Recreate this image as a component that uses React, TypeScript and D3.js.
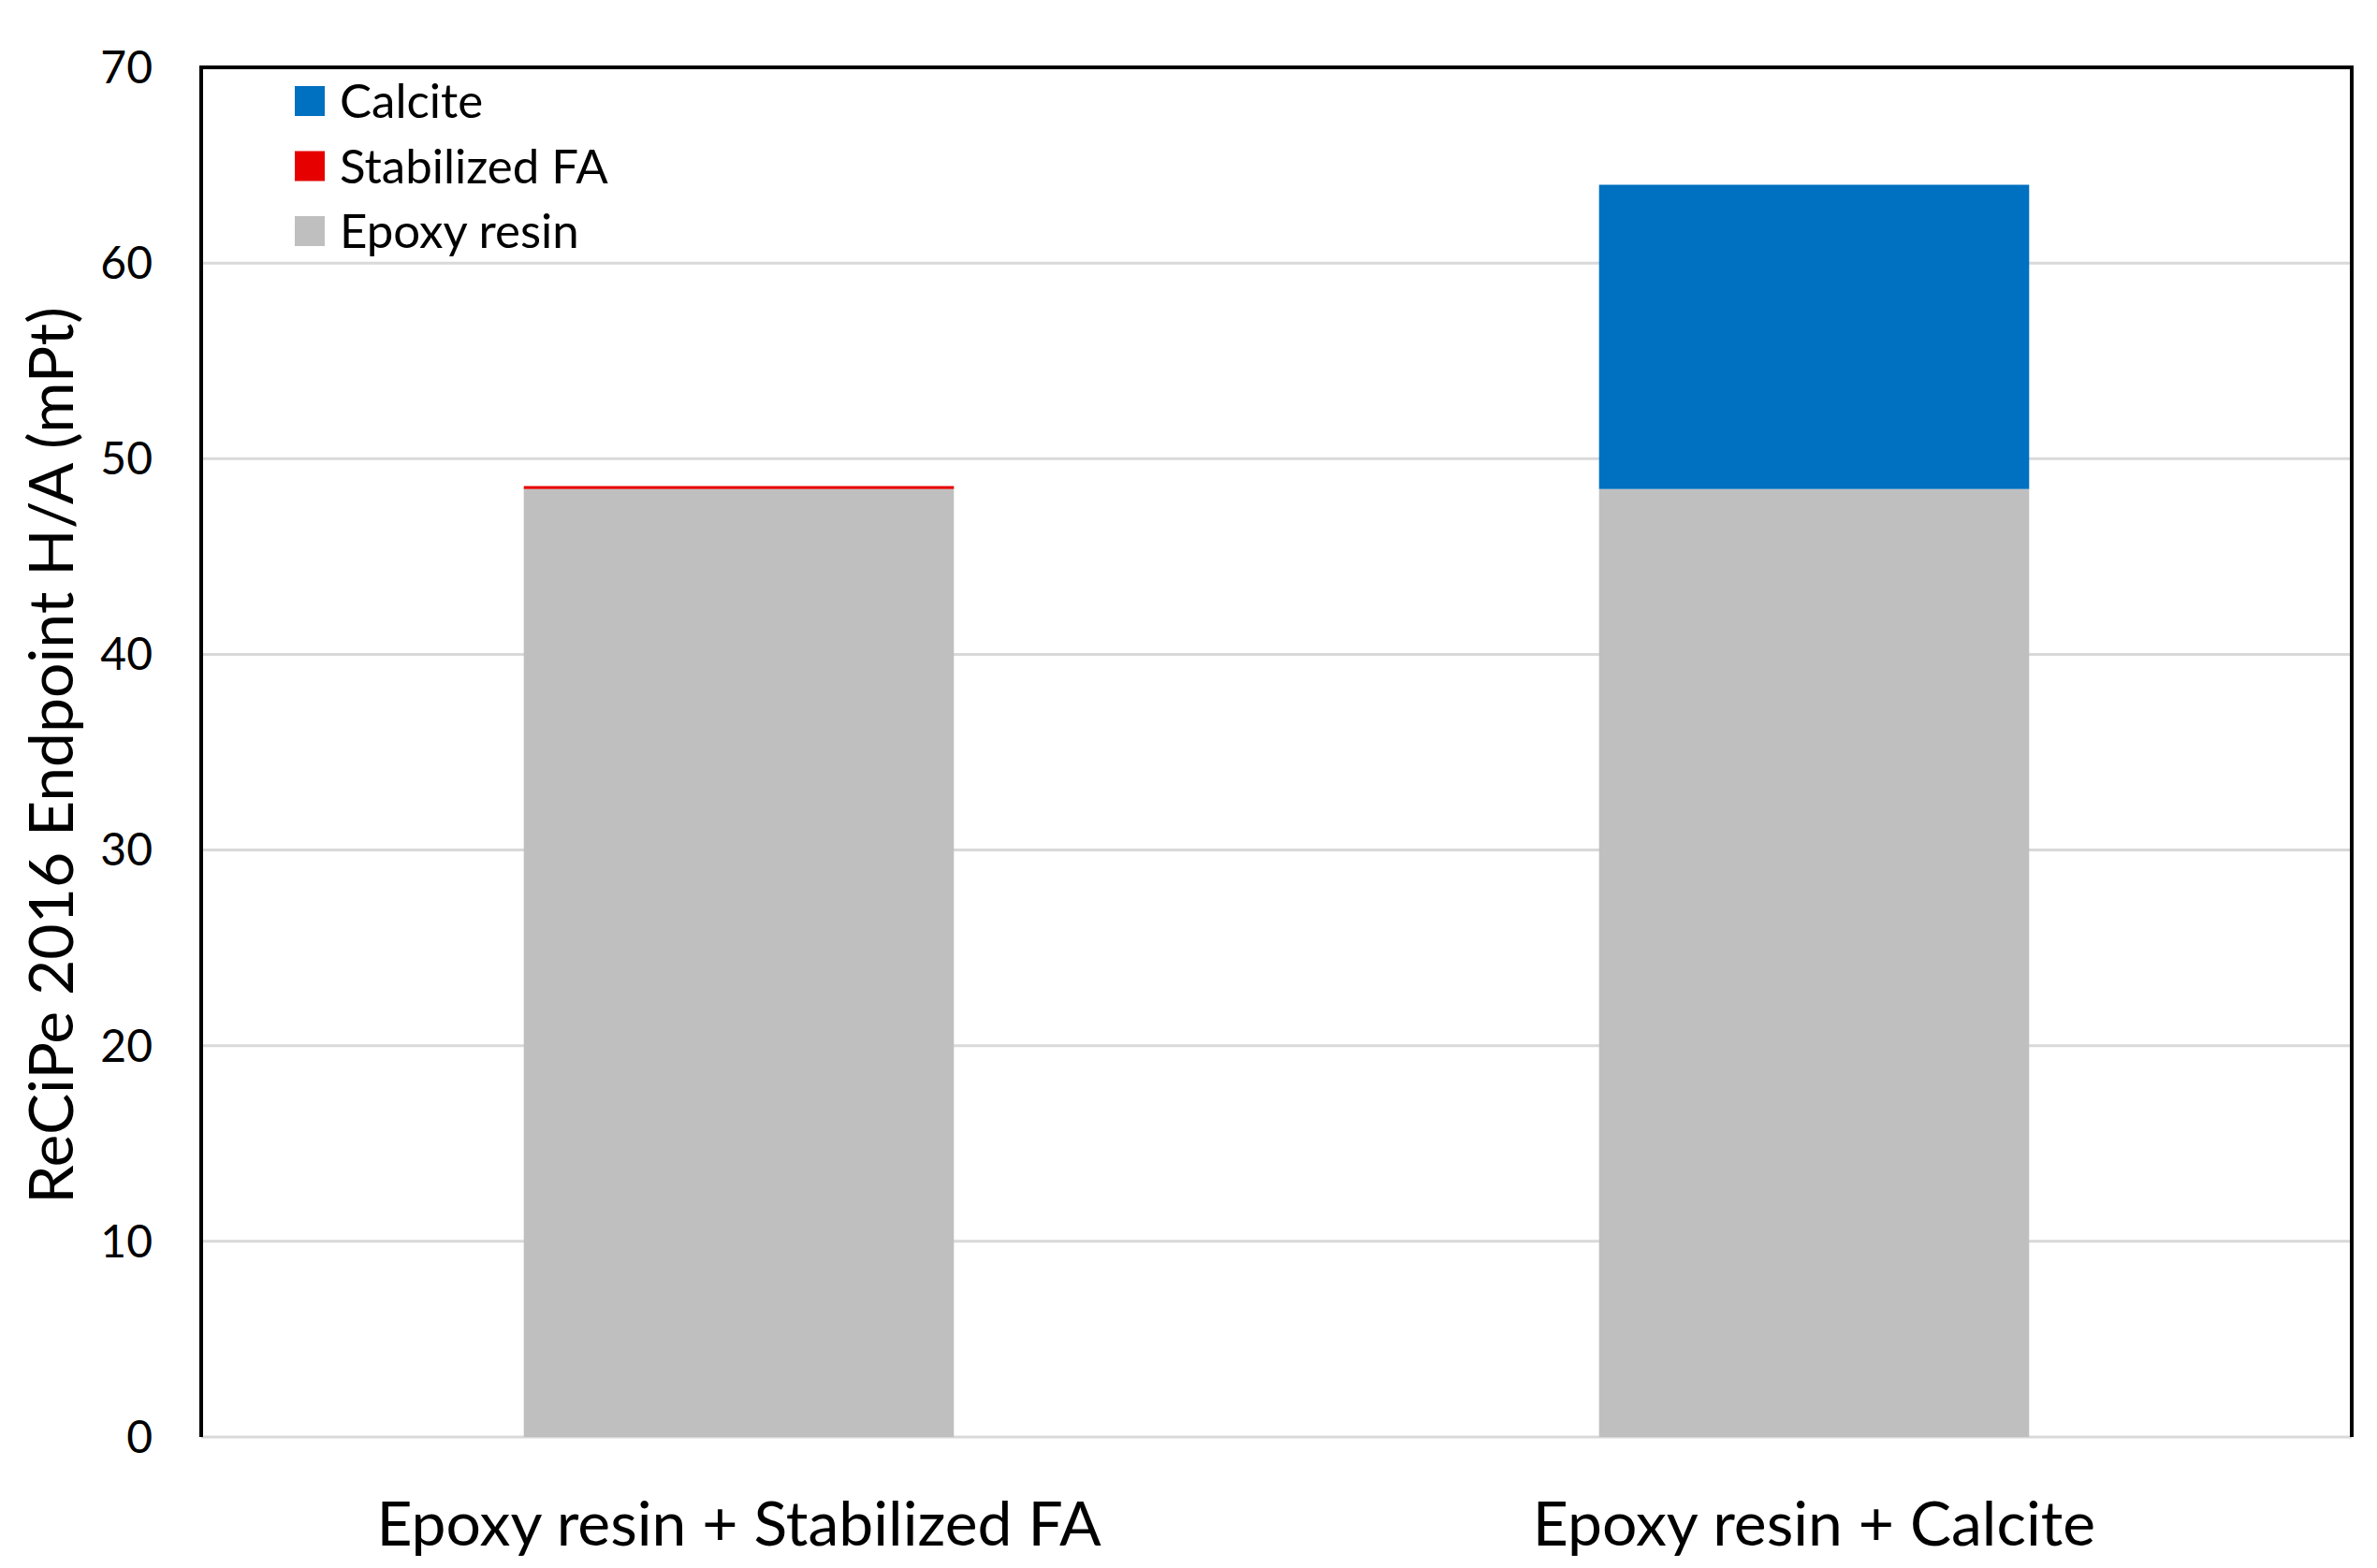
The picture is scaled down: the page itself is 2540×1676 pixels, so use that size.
import React from "react";
import * as d3 from "d3";

const categories = ["Epoxy resin + Stabilized FA", "Epoxy resin + Calcite"];
const seriesNames = ["Epoxy resin", "Stabilized FA", "Calcite"];
const epoxyResin = [48.45, 48.45];
const stabilizedFA = [0.15, 0];
const calcite = [0, 15.55];
const yTicks = [0, 10, 20, 30, 40, 50, 60, 70];
const legendOrder = ["Calcite", "Stabilized FA", "Epoxy resin"];
const yTitle = "ReCiPe 2016 Endpoint H/A (mPt)";

const colors: Record<string, string> = {
  "Epoxy resin": "#bfbfbf",
  "Stabilized FA": "#e60000",
  Calcite: "#0070c0",
};

const W = 2540;
const H = 1676;
const left = 215;
const right = 2513;
const top = 72;
const bottom = 1536;
const FONT = "Lato, 'Open Sans', sans-serif";

export default function App() {
  const x = d3.scaleBand<string>().domain(categories).range([left, right]).padding(0);
  const y = d3.scaleLinear().domain([0, 70]).range([bottom, top]);
  const barW = x.bandwidth() * 0.4;

  const rows = categories.map((c, i) => ({
    cat: c,
    "Epoxy resin": epoxyResin[i],
    "Stabilized FA": stabilizedFA[i],
    Calcite: calcite[i],
  }));
  const stack = d3.stack<any>().keys(seriesNames)(rows);

  return (
    <svg
      width={W}
      height={H}
      style={{ position: "absolute", left: 0, top: 0, background: "#fff" }}
    >
      <rect x={0} y={0} width={W} height={H} fill="#fff" />
      {yTicks.map((t) => (
        <line
          key={"g" + t}
          x1={left}
          x2={right}
          y1={y(t)}
          y2={y(t)}
          stroke="#d9d9d9"
          strokeWidth={3}
        />
      ))}
      {stack.map((s) =>
        s.map((d, i) =>
          d[1] - d[0] > 0 ? (
            <rect
              key={s.key + i}
              x={(x(categories[i]) as number) + x.bandwidth() / 2 - barW / 2}
              width={barW}
              y={y(d[1])}
              height={y(d[0]) - y(d[1])}
              fill={colors[s.key]}
            />
          ) : null
        )
      )}
      <path
        d={`M${left},${bottom} L${left},${top} L${right},${top} L${right},${bottom}`}
        fill="none"
        stroke="#000"
        strokeWidth={4}
      />
      {yTicks.map((t) => (
        <text
          key={"t" + t}
          x={163}
          y={y(t)}
          dy="0.35em"
          textAnchor="end"
          fontFamily={FONT}
          fontSize={48}
          fill="#000"
        >
          {t}
        </text>
      ))}
      {categories.map((c) => (
        <text
          key={"c" + c}
          x={(x(c) as number) + x.bandwidth() / 2}
          y={1652}
          textAnchor="middle"
          fontFamily={FONT}
          fontSize={66}
          fill="#000"
        >
          {c}
        </text>
      ))}
      <text
        transform={`translate(78,${(332 + 1283) / 2}) rotate(-90)`}
        textAnchor="middle"
        fontFamily={FONT}
        fontSize={66}
        fill="#000"
      >
        {yTitle}
      </text>
      {legendOrder.map((k, i) => {
        const cy = 108 + i * 69.5;
        return (
          <g key={"l" + k}>
            <rect x={315} y={cy - 16} width={32} height={32} fill={colors[k]} />
            <text
              x={363}
              y={cy + 18}
              fontFamily={FONT}
              fontSize={51}
              fill="#000"
            >
              {k}
            </text>
          </g>
        );
      })}
    </svg>
  );
}
